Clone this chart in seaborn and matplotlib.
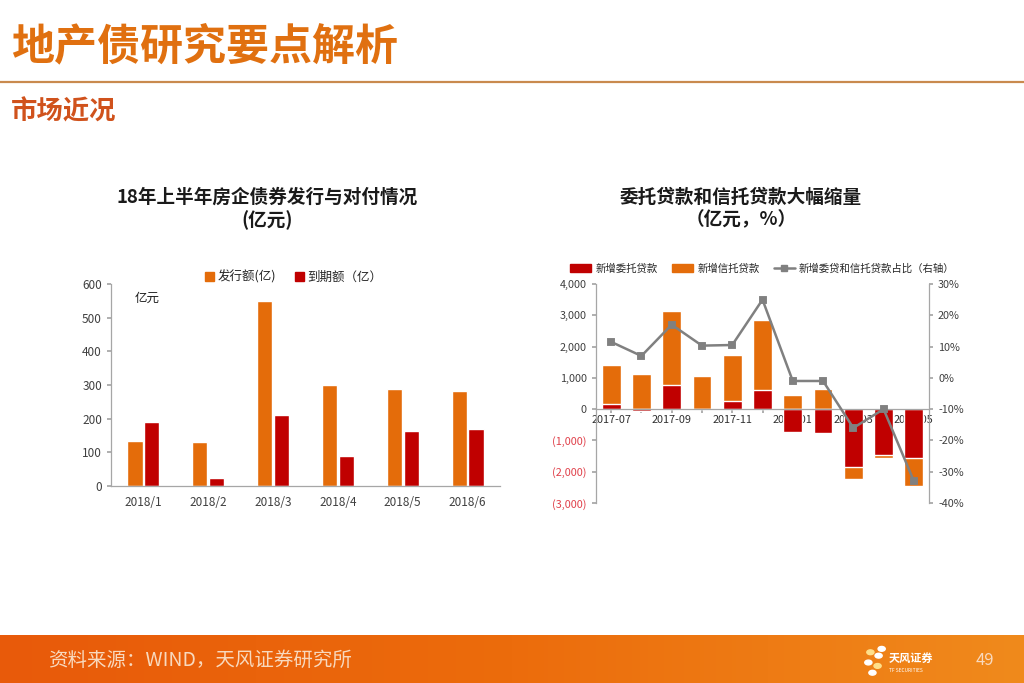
import numpy as np
import pandas as pd
import seaborn as sns
import matplotlib.pyplot as plt
from matplotlib.lines import Line2D
from matplotlib.patches import Patch
from matplotlib.colors import LinearSegmentedColormap
from matplotlib.ticker import FuncFormatter, MultipleLocator

# left chart data
months_l = ['2018/1', '2018/2', '2018/3', '2018/4', '2018/5', '2018/6']
issue = [133, 130, 550, 300, 288, 282]
mature = [190, 25, 210, 88, 162, 168]

# right chart data
months_r = ['2017-07', '2017-08', '2017-09', '2017-10', '2017-11', '2017-12',
            '2018-01', '2018-02', '2018-03', '2018-04', '2018-05']
entrust = [150, -50, 770, 20, 270, 600, -720, -760, -1850, -1480, -1560]
trust = [1250, 1130, 2360, 1040, 1450, 2250, 450, 650, -370, -80, -910]
share = [0.115, 0.07, 0.17, 0.103, 0.105, 0.25, -0.01, -0.01, -0.16, -0.10, -0.33]

ORANGE = '#E46C0A'
RED = '#C00000'
GREY = '#808080'
TXT = '#404040'

sns.set_theme(style='white')
plt.rcParams['font.family'] = ['Noto Sans CJK SC', 'DejaVu Sans']
plt.rcParams['axes.unicode_minus'] = False

fig = plt.figure(figsize=(10.24, 6.83), dpi=100)
fig.patch.set_facecolor('white')

# header
fig.text(0.011, 0.932, '地产债研究要点解析', fontsize=31, fontweight='bold',
         color='#E07010', va='center', ha='left')
fig.add_artist(Line2D([0, 1], [1 - 82 / 683, 1 - 82 / 683], color='#C98A4E', lw=1.6))
fig.text(0.011, 0.836, '市场近况', fontsize=19, fontweight='bold',
         color='#D0521C', va='center', ha='left')

# footer band with gradient
fax = fig.add_axes([0, 0, 1, 48 / 683])
grad = np.linspace(0, 1, 256).reshape(1, -1)
cmap = LinearSegmentedColormap.from_list('band', ['#E85A0A', '#EC6C0C', '#F08A1C'])
fax.imshow(grad, aspect='auto', cmap=cmap, extent=[0, 1, 0, 1])
fax.set_axis_off()
fig.text(0.047, 0.033, '资料来源：WIND，天风证券研究所', fontsize=14,
         color='#F8D9BE', va='center', ha='left')
fig.text(0.962, 0.033, '49', fontsize=12, color='#F8D9BE', va='center', ha='center')
fig.text(0.868, 0.036, '天风证券', fontsize=8, fontweight='bold', color='white',
         va='center', ha='left')
fig.text(0.868, 0.018, 'TF SECURITIES', fontsize=3.5, color='white', va='center', ha='left')
for dx, dy, c in [(0.850, 0.045, '#FFE08A'), (0.858, 0.040, 'white'), (0.848, 0.030, 'white'),
                  (0.857, 0.025, '#FFE08A'), (0.852, 0.015, 'white'), (0.861, 0.050, 'white')]:
    fig.add_artist(plt.Circle((dx, dy), 0.0035, color=c, transform=fig.transFigure))

# ---------------- left chart ----------------
ax1 = fig.add_axes([111 / 1024, 1 - 486 / 683, 389 / 1024, 202 / 683])
df_l = pd.DataFrame({
    'month': months_l * 2,
    'value': issue + mature,
    'kind': ['发行额(亿)'] * 6 + ['到期额（亿）'] * 6,
})
sns.barplot(data=df_l, x='month', y='value', hue='kind', palette=[ORANGE, RED],
            saturation=1, width=0.52, gap=0.1, ax=ax1, legend=False)
ax1.set_ylim(0, 600)
ax1.yaxis.set_major_locator(MultipleLocator(100))
ax1.set_xlabel('')
ax1.set_ylabel('')
for s in ['top', 'right']:
    ax1.spines[s].set_visible(False)
for s in ['left', 'bottom']:
    ax1.spines[s].set_color('#A6A6A6')
    ax1.spines[s].set_linewidth(0.9)
ax1.tick_params(axis='both', labelsize=8.5, colors=TXT, length=3, color='#A6A6A6')
ax1.tick_params(axis='x', length=0, pad=7)
ax1.tick_params(axis='y', left=True, direction='out')
ax1.text(0.06, 0.93, '亿元', transform=ax1.transAxes, fontsize=9, color='#202020',
         ha='left', va='center')
ax1.legend(handles=[Patch(color=ORANGE, label='发行额(亿)'), Patch(color=RED, label='到期额（亿）')],
           loc='center', bbox_to_anchor=(0.47, 1.035), ncol=2, frameon=False, fontsize=9,
           handlelength=0.7, handleheight=0.7, handletextpad=0.3, columnspacing=1.5)
fig.text(267 / 1024, 1 - 197 / 683, '18年上半年房企债券发行与对付情况', fontsize=13.4,
         fontweight='bold', ha='center', va='center', color='#1A1A1A')
fig.text(267 / 1024, 1 - 220 / 683, '(亿元)', fontsize=13.4,
         fontweight='bold', ha='center', va='center', color='#1A1A1A')

# ---------------- right chart ----------------
ax2 = fig.add_axes([596 / 1024, 1 - 503 / 683, 333 / 1024, 219 / 683])
# Excel-style stacking: trust bar sits on top of entrust bar when signs agree
trust_extent = [t + (e if np.sign(e) == np.sign(t) else 0) for e, t in zip(entrust, trust)]
df_r = pd.DataFrame({'month': months_r, 'entrust': entrust,
                     'trust_extent': trust_extent, 'share': share})
sns.barplot(data=df_r, x='month', y='trust_extent', color=ORANGE, saturation=1,
            width=0.62, ax=ax2)
sns.barplot(data=df_r, x='month', y='entrust', color=RED, saturation=1,
            width=0.62, ax=ax2)
ax2.set_ylim(-3000, 4000)
ax2.yaxis.set_major_locator(MultipleLocator(1000))
ax2.yaxis.set_major_formatter(FuncFormatter(
    lambda v, p: f'({abs(v):,.0f})' if v < 0 else f'{v:,.0f}'))
ax2.set_xlabel('')
ax2.set_ylabel('')
ax2.spines['bottom'].set_position(('data', 0))
for s in ['top', 'right']:
    ax2.spines[s].set_visible(False)
for s in ['left', 'bottom']:
    ax2.spines[s].set_color('#A6A6A6')
    ax2.spines[s].set_linewidth(0.9)
ax2.set_xticks(range(len(months_r)))
ax2.set_xticklabels([m if i % 2 == 0 else '' for i, m in enumerate(months_r)])
ax2.tick_params(axis='x', labelsize=7.8, colors='#303030', length=3, color='#A6A6A6',
                direction='out', bottom=True, pad=1)
ax2.tick_params(axis='y', labelsize=7.8, colors=TXT, length=3, color='#A6A6A6',
                left=True, direction='out')
for lab, v in zip(ax2.get_yticklabels(), ax2.get_yticks()):
    if v < 0:
        lab.set_color('#E0404A')

ax3 = ax2.twinx()
sns.pointplot(data=df_r, x='month', y='share', color=GREY, markers='s',
              markersize=4, linewidth=1.8, ax=ax3)
ax3.set_ylim(-0.4, 0.3)
ax3.yaxis.set_major_locator(MultipleLocator(0.1))
ax3.yaxis.set_major_formatter(FuncFormatter(lambda v, p: f'{v * 100:.0f}%'))
ax3.set_ylabel('')
ax3.set_xlabel('')
ax3.set_xlim(ax2.get_xlim())
for s in ['top', 'left', 'bottom']:
    ax3.spines[s].set_visible(False)
ax3.spines['right'].set_color('#A6A6A6')
ax3.spines['right'].set_linewidth(0.9)
ax3.tick_params(axis='y', labelsize=7.8, colors=TXT, length=3, color='#A6A6A6',
                right=True, direction='out')
ax3.tick_params(axis='x', bottom=False, labelbottom=False)

handles = [Patch(color=RED, label='新增委托贷款'), Patch(color=ORANGE, label='新增信托贷款'),
           Line2D([], [], color=GREY, marker='s', markersize=4, lw=1.8,
                  label='新增委贷和信托贷款占比（右轴）')]
ax2.legend(handles=handles, loc='center', bbox_to_anchor=(0.5, 1.07), ncol=3,
           frameon=False, fontsize=7.5, handlelength=2.0, handleheight=0.8,
           handletextpad=0.4, columnspacing=1.4)
fig.text(741 / 1024, 1 - 197 / 683, '委托贷款和信托贷款大幅缩量', fontsize=13.4,
         fontweight='bold', ha='center', va='center', color='#1A1A1A')
fig.text(741 / 1024, 1 - 220 / 683, '（亿元，%）', fontsize=13.4,
         fontweight='bold', ha='center', va='center', color='#1A1A1A')

fig.savefig('out.png', dpi=100, facecolor='white')
